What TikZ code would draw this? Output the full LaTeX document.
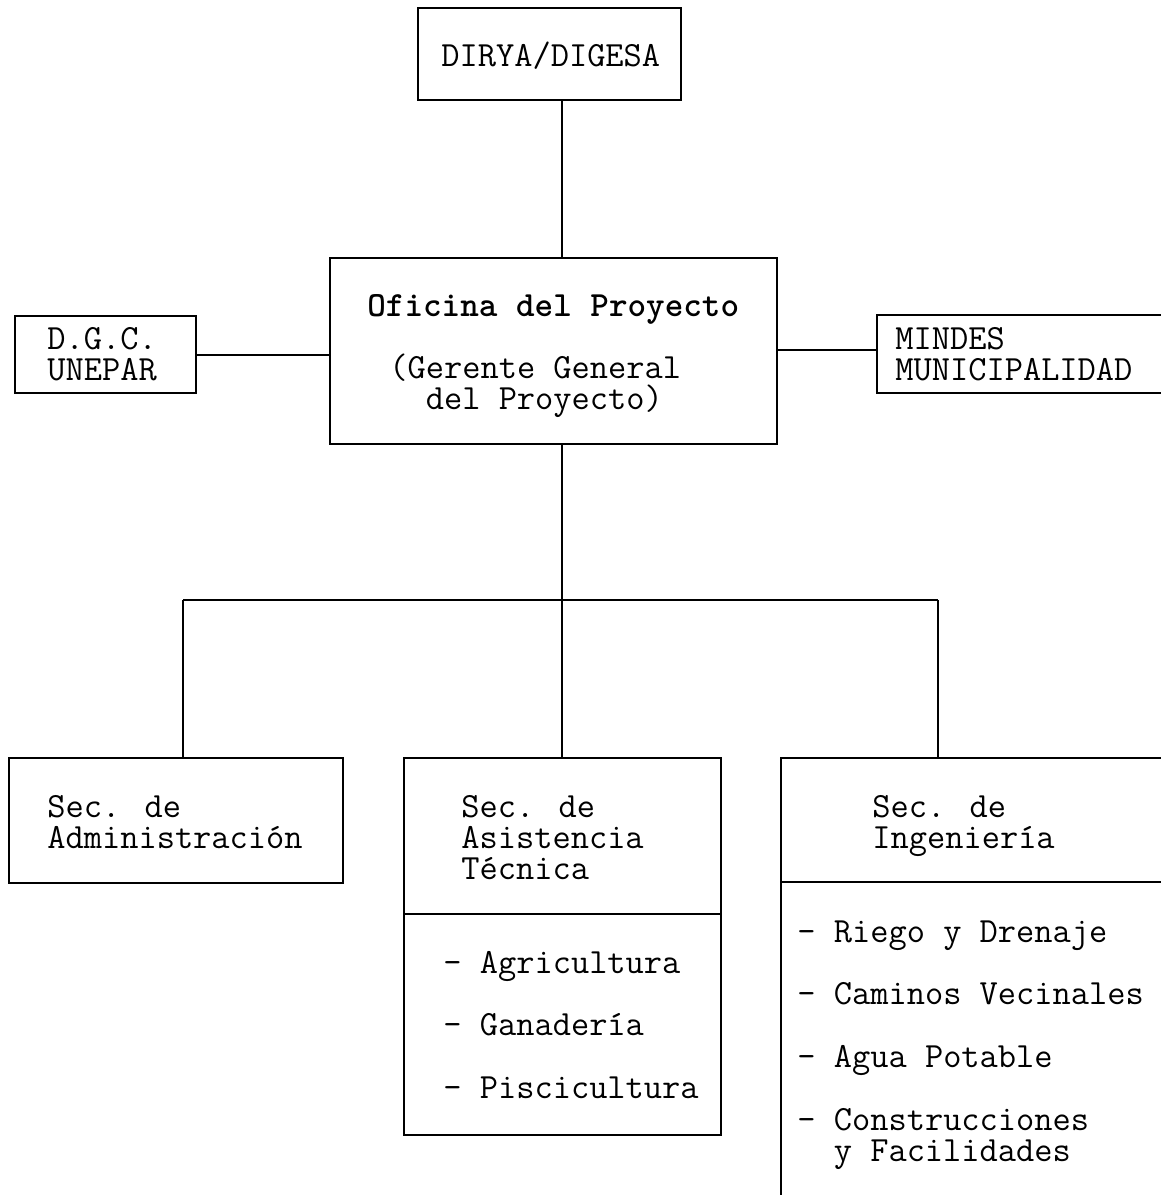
\documentclass[tikz,border=0pt]{standalone}
\usepackage{fontspec}
\usetikzlibrary{fit}
\begin{document}
\begin{tikzpicture}[x=0.5pt,y=-0.5pt,
  frame/.style={draw, line width=1pt, inner sep=0pt},
  wire/.style={line width=1pt},
  % multi-line labels are placed by the baseline of their last line
  txt/.style={anchor=base west, inner sep=0pt, align=left,
    font=\ttfamily\fontsize{17.7}{15.5}\selectfont},
  boldtxt/.style={txt, font=\ttfamily\fontsize{17.7}{15.5}\selectfont\bfseries}]
\useasboundingbox[fill=white] (0,0) rectangle (1161,1195);

% vertical axis of the chart
\coordinate (spine) at (562,0);

% top level
\node[frame, fit={(418,8) (681,100)}] (dirya) {};
\node[txt] (diryaT) at (441,66) {DIRYA/DIGESA};

% project office
\node[frame, fit={(330,258) (777,444)}] (oficina) {};
\node[boldtxt] (oficinaT) at (367,316) {Oficina del Proyecto};
\node[txt] (gerente) at (389,409) {(Gerente General\\\phantom{(}\phantom{X}del Proyecto)};

% side boxes
\node[frame, fit={(15,316) (196,393)}] (dgc) {};
\node[txt] (dgcT) at (47,380) {D.G.C.\\UNEPAR};

\coordinate (mindesTR) at (1161,315);
\coordinate (mindesTL) at (877,315);
\coordinate (mindesBL) at (877,393);
\coordinate (mindesBR) at (1161,393);
\draw[wire] (mindesTR) -- (mindesTL) -- (mindesBL) -- (mindesBR);
\coordinate (mindesL) at (877,350);
\node[txt] (mindesT) at (895,380) {MINDES\\MUNICIPALIDAD};

% sections
\node[frame, fit={(9,758) (343,883)}] (admin) {};
\node[txt] (adminT) at (47,848) {Sec. de\\Administración};

\node[frame, fit={(404,758) (721,1135)}] (asist) {};
\draw[wire] (asist.west |- 0,914) -- (asist.east |- 0,914);
\node[txt] (asistT) at (461,879) {Sec. de\\Asistencia\\Técnica};
\node[txt] (agri) at (443,973) {- Agricultura};
\node[txt] (gana) at (443,1035) {- Ganadería};
\node[txt] (pisc) at (443,1098) {- Piscicultura};

\coordinate (ingTR) at (1161,758);
\coordinate (ingTL) at (781,758);
\coordinate (ingBL) at (781,1195);
\coordinate (ingT) at (938,758);
\draw[wire] (ingTR) -- (ingTL) -- (ingBL);
\draw[wire] (781,882) -- (1161,882);
\node[txt] (ingTxt) at (872,848) {Sec. de\\Ingeniería};
\node[txt] (riego) at (797,942) {- Riego y Drenaje};
\node[txt] (caminos) at (797,1004) {- Caminos Vecinales};
\node[txt] (agua) at (797,1067) {- Agua Potable};
\node[txt] (constr) at (797,1161) {- Construcciones\\\phantom{- }y Facilidades};

% connectors
\draw[wire] (dirya.south -| spine) -- (oficina.north -| spine);
\draw[wire] (dgc.east) -- (dgc.east -| oficina.west);
\draw[wire] (oficina.east |- mindesL) -- (mindesL);
\coordinate (bus) at (562,600);
\draw[wire] (oficina.south -| spine) -- (bus);
\draw[wire] (bus -| 183,0) -- (bus -| ingT);
\draw[wire] (bus -| 183,0) -- (admin.north -| 183,0);
\draw[wire] (bus) -- (asist.north -| spine);
\draw[wire] (bus -| ingT) -- (ingT);
\end{tikzpicture}
\end{document}
